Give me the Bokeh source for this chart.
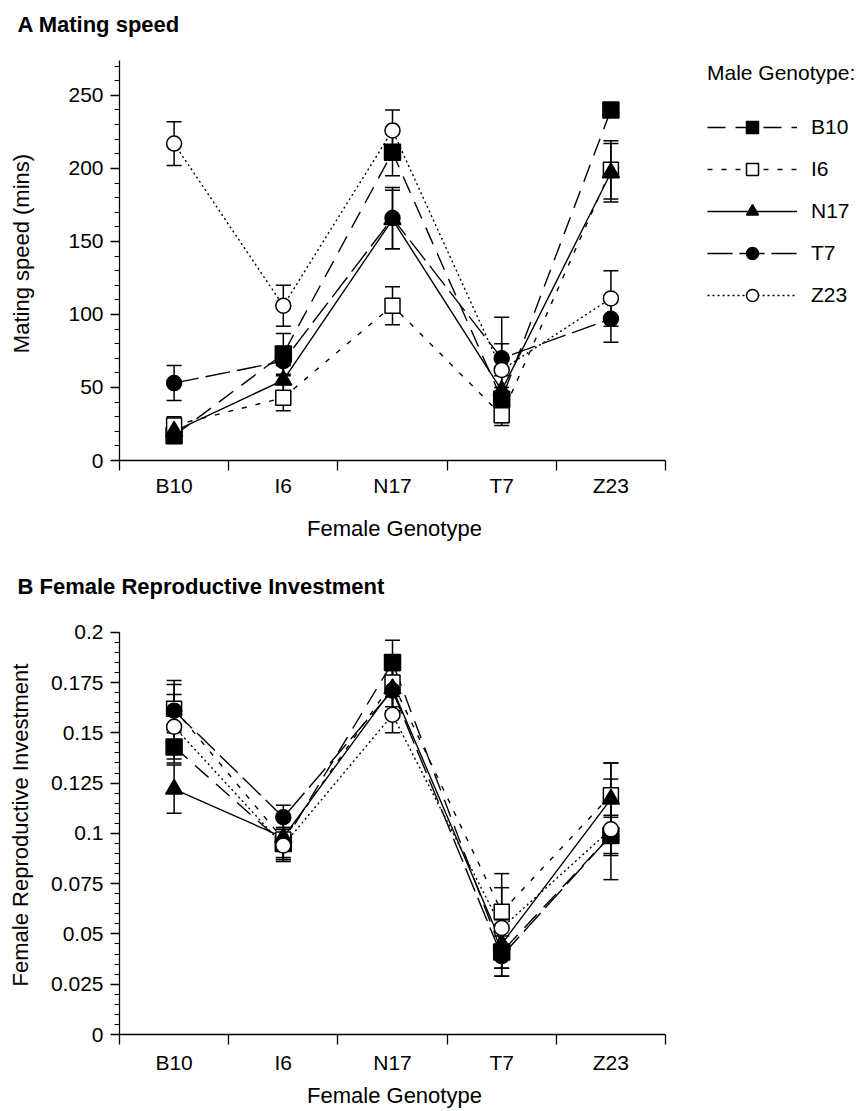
from bokeh.plotting import figure
from bokeh.models import (ColumnDataSource, Whisker, TeeHead, FixedTicker, Legend, LegendItem,
                          CustomJSTickFormatter, Range1d, Title)
from bokeh.layouts import column
from bokeh.embed import file_html
from bokeh.resources import INLINE

# ---------------- data ----------------
female_genotypes = ["B10", "I6", "N17", "T7", "Z23"]
male_genotypes = ["B10", "I6", "N17", "T7", "Z23"]

# Panel A: mating speed (mins), mean and s.e.
speed_B10 = [17, 73, 211, 42, 240]
speed_B10_err = [5, 14, 16, 8, None]
speed_I6 = [24, 43, 106, 31, 199]
speed_I6_err = [6, 9, 13, 7, 20]
speed_N17 = [20, 55, 165, 48, 197]
speed_N17_err = [5, 10, 20, 10, 20]
speed_T7 = [53, 68, 166, 70, 97]
speed_T7_err = [12, 10, 21, 10, 16]
speed_Z23 = [217, 106, 226, 62, 111]
speed_Z23_err = [15, 14, 14, 36, 19]

# Panel B: female reproductive investment, mean and s.e.
inv_B10 = [0.143, 0.095, 0.185, 0.041, 0.099]
inv_B10_err = [0.008, 0.008, 0.011, 0.012, 0.010]
inv_I6 = [0.162, 0.097, 0.175, 0.061, 0.119]
inv_I6_err = [0.012, 0.010, 0.012, 0.019, 0.016]
inv_N17 = [0.122, 0.098, 0.172, 0.045, 0.117]
inv_N17_err = [0.012, 0.010, 0.012, 0.012, 0.018]
inv_T7 = [0.161, 0.108, 0.171, 0.039, 0.099]
inv_T7_err = [0.015, 0.006, 0.010, 0.010, 0.009]
inv_Z23 = [0.153, 0.094, 0.159, 0.053, 0.102]
inv_Z23_err = [0.016, 0.008, 0.009, 0.020, 0.025]

speed_ticks = [0, 50, 100, 150, 200, 250]
inv_ticks = [0, 0.025, 0.05, 0.075, 0.1, 0.125, 0.15, 0.175, 0.2]

speed_data = {"B10": (speed_B10, speed_B10_err), "I6": (speed_I6, speed_I6_err),
              "N17": (speed_N17, speed_N17_err), "T7": (speed_T7, speed_T7_err),
              "Z23": (speed_Z23, speed_Z23_err)}
inv_data = {"B10": (inv_B10, inv_B10_err), "I6": (inv_I6, inv_I6_err),
            "N17": (inv_N17, inv_N17_err), "T7": (inv_T7, inv_T7_err),
            "Z23": (inv_Z23, inv_Z23_err)}

# ---------------- styles / layout ----------------
FONT = "Liberation Sans"
styles = {
    "B10": dict(marker="square", size=16, fill="black", dash="18 10"),
    "I6": dict(marker="square", size=15, fill="white", dash="5 9"),
    "N17": dict(marker="triangle", size=17, fill="black", dash="solid"),
    "T7": dict(marker="circle", size=15, fill="black", dash="25 7"),
    "Z23": dict(marker="circle", size=15, fill="white", dash="2 3"),
}

W = 863
LEFT = 119          # x of the y axis
AXIS_RIGHT = 665    # x where the x axis ends
FRAME_RIGHT = 861   # plotting frame extends right to hold the legend
PX_PER_CAT = (AXIS_RIGHT - LEFT) / 5.0
X_END = -0.5 + (FRAME_RIGHT - LEFT) / PX_PER_CAT
XLABEL_CENTER = 394


def make_panel(height, frame_top, axis_top, axis_bottom, ymax, ticks, minor, formatter,
               ylabel, ylabel_standoff, xl_standoff, xa_standoff, data, title, title_standoff):
    # extend the y range above the axis end so the frame reaches up to the title
    y_ext = ymax * (axis_bottom - frame_top) / (axis_bottom - axis_top)
    p = figure(width=W, height=height, x_range=Range1d(-0.5, X_END), y_range=Range1d(0, y_ext),
               output_backend="svg", toolbar_location=None,
               min_border_left=LEFT, min_border_right=W - FRAME_RIGHT,
               min_border_top=frame_top, min_border_bottom=height - axis_bottom)
    p.grid.visible = False
    p.outline_line_color = None
    p.background_fill_color = "white"

    p.title.text = title
    p.title.align = "left"
    p.title.offset = 17 - LEFT
    p.title.standoff = title_standoff
    p.title.text_font = FONT
    p.title.text_font_size = "22px"
    p.title.text_font_style = "bold"
    p.title.text_color = "black"

    xs = list(range(len(female_genotypes)))

    # x axis: labels at category centres, tick marks at category boundaries
    p.xaxis.bounds = (-0.5, 4.5)
    p.xaxis.ticker = FixedTicker(ticks=xs, minor_ticks=[i - 0.5 for i in range(len(xs) + 1)])
    p.xaxis.major_label_overrides = {i: g for i, g in enumerate(female_genotypes)}
    p.xaxis.major_tick_out = 0
    p.xaxis.major_tick_in = 0
    p.xaxis.minor_tick_out = 10
    p.xaxis.minor_tick_in = 0
    p.xaxis.minor_tick_line_width = 1.3
    p.xaxis.major_label_standoff = xl_standoff

    # x axis title, centred under the drawn part of the axis
    xlab_w = 7.95 * 22  # approximate text width of the label
    p.add_layout(Title(text="Female Genotype", align="left",
                       offset=XLABEL_CENTER - xlab_w / 2 - LEFT, standoff=xa_standoff,
                       text_font=FONT, text_font_size="22px", text_font_style="normal",
                       text_color="black"), "below")

    p.yaxis.bounds = (0, ymax)
    p.yaxis.ticker = FixedTicker(ticks=ticks, minor_ticks=minor)
    if formatter is not None:
        p.yaxis.formatter = formatter
    p.yaxis.major_tick_out = 9
    p.yaxis.major_tick_in = 0
    p.yaxis.minor_tick_out = 5
    p.yaxis.minor_tick_in = 0
    p.yaxis.major_label_standoff = 7
    p.yaxis.axis_label = ylabel
    p.yaxis.axis_label_standoff = ylabel_standoff

    for ax in (p.xaxis, p.yaxis):
        ax.axis_line_width = 1.3
        ax.axis_line_color = "black"
        ax.major_tick_line_width = 1.3
        ax.major_tick_line_color = "black"
        ax.minor_tick_line_color = "black"
        ax.major_label_text_font = FONT
        ax.major_label_text_font_size = "21px"
        ax.major_label_text_color = "black"
        ax.axis_label_text_font = FONT
        ax.axis_label_text_font_size = "22px"
        ax.axis_label_text_font_style = "normal"
        ax.axis_label_text_color = "black"
    p.yaxis.minor_tick_line_width = 1.0

    lines, marks = {}, {}
    srcs = {}
    for m in male_genotypes:
        vals, errs = data[m]
        srcs[m] = ColumnDataSource(dict(x=xs, y=vals))
        lines[m] = p.line("x", "y", source=srcs[m], line_color="black", line_width=1.4,
                          line_dash=styles[m]["dash"])
    for m in male_genotypes:
        vals, errs = data[m]
        wb = [x for x, e in zip(xs, errs) if e is not None]
        wu = [v + e for v, e in zip(vals, errs) if e is not None]
        wl = [v - e for v, e in zip(vals, errs) if e is not None]
        wsrc = ColumnDataSource(dict(base=wb, upper=wu, lower=wl))
        w = Whisker(source=wsrc, base="base", upper="upper", lower="lower",
                    line_color="black", line_width=1.5, level="underlay",
                    upper_head=TeeHead(size=15, line_width=1.5, line_color="black"),
                    lower_head=TeeHead(size=15, line_width=1.5, line_color="black"))
        p.add_layout(w)
    for m in male_genotypes:
        st = styles[m]
        marks[m] = p.scatter("x", "y", source=srcs[m], marker=st["marker"], size=st["size"],
                             fill_color=st["fill"], line_color="black", line_width=1.5)
    return p, lines, marks


p1, lines1, marks1 = make_panel(555, 44, 58, 463, 274, speed_ticks, list(range(0, 275, 10)), None,
                                "Mating speed (mins)", 31, 3, 29, speed_data,
                                "A  Mating speed", 19)

legend = Legend(items=[LegendItem(label=m, renderers=[lines1[m], marks1[m]]) for m in male_genotypes],
                title="Male Genotype:", title_text_font=FONT, title_text_font_size="21px",
                title_text_font_style="normal", title_text_color="black", title_standoff=27,
                location=(707 - LEFT, 150), glyph_width=90, glyph_height=30, label_height=30,
                spacing=12, label_standoff=14, padding=0, margin=0,
                border_line_color=None, background_fill_alpha=0,
                label_text_font=FONT, label_text_font_size="21px", label_text_color="black")
p1.add_layout(legend)

inv_fmt = CustomJSTickFormatter(code="return String(Number(tick.toFixed(3)));")
p2, lines2, marks2 = make_panel(556, 58, 75, 483, 0.2, inv_ticks,
                                [round(i * 0.005, 3) for i in range(41)], inv_fmt,
                                "Female Reproductive Investment", 15, 6, 8, inv_data,
                                "B  Female Reproductive Investment", 33)

layout = column(p1, p2)
open("out.html", "w").write(file_html(layout, INLINE))
